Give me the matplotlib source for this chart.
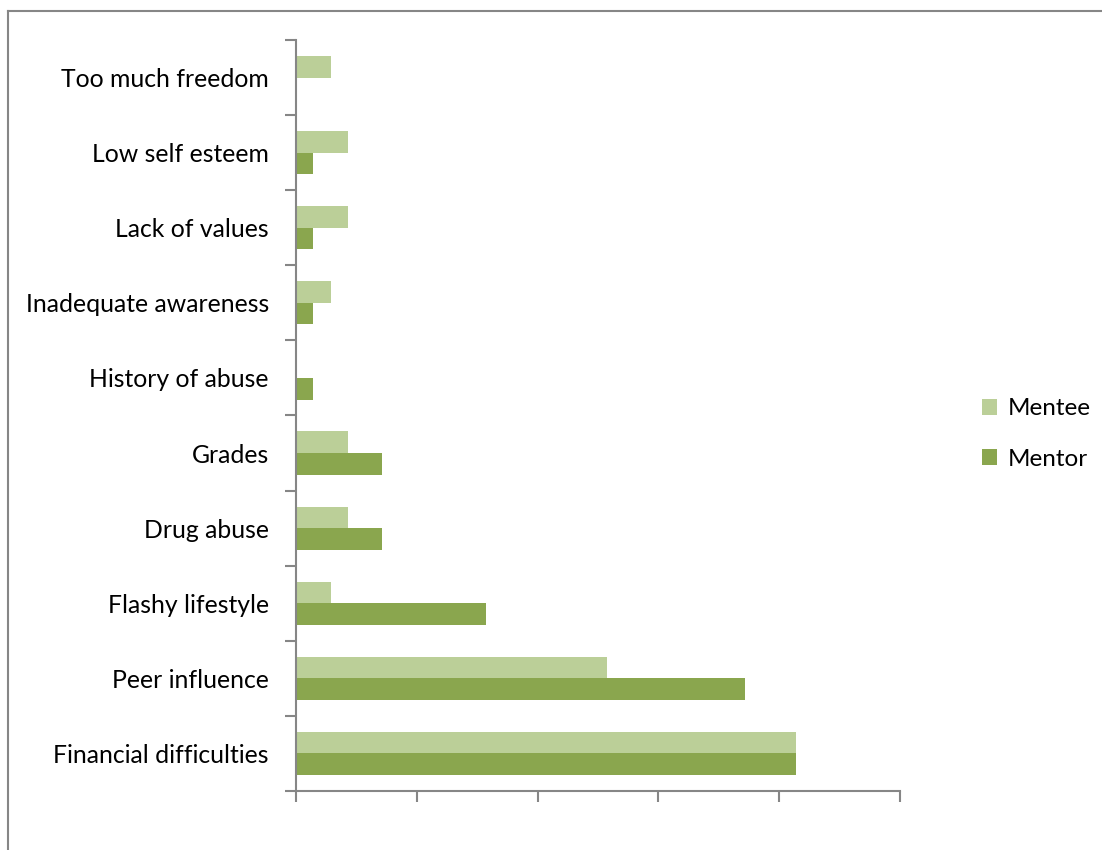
import matplotlib.pyplot as plt
import numpy as np
from matplotlib.lines import Line2D

plt.rcParams['font.family'] = ['Lato', 'DejaVu Sans']

categories = ['Financial difficulties', 'Peer influence', 'Flashy lifestyle', 'Drug abuse',
              'Grades', 'History of abuse', 'Inadequate awareness', 'Lack of values',
              'Low self esteem', 'Too much freedom']
mentee = [29, 18, 2, 3, 3, 0, 2, 3, 3, 2]
mentor = [29, 26, 11, 5, 5, 1, 1, 1, 1, 0]

c_mentee = '#BBCF98'
c_mentor = '#8AA64E'
axis_col = '#868686'

fig = plt.figure(figsize=(11.02, 8.5), dpi=100)
ax = fig.add_axes([296/1102, 1-791/850, (900-296)/1102, (791-40)/850])

y = np.arange(len(categories))
h = 0.287
ax.barh(y + h/2, mentee, height=h, color=c_mentee, label='Mentee')
ax.barh(y - h/2, mentor, height=h, color=c_mentor, label='Mentor')

ax.set_xlim(0, 35)
ax.set_ylim(-0.5, len(categories) - 0.5)
ax.set_xticks(np.arange(0, 36, 7))
ax.set_xticklabels([])
ax.set_yticks(y)
ax.set_yticklabels(categories, fontsize=17.8)
ax.set_yticks(np.arange(-0.5, len(categories), 1), minor=True)
ax.tick_params(axis='y', which='major', length=0, pad=19.5)
ax.tick_params(axis='y', which='minor', length=8, width=1.5, color=axis_col)
ax.tick_params(axis='x', length=8, width=1.5, color=axis_col)

for s in ['top', 'right']:
    ax.spines[s].set_visible(False)
for s in ['left', 'bottom']:
    ax.spines[s].set_color(axis_col)
    ax.spines[s].set_linewidth(1.5)

# legend
fig.legend(loc='center left', bbox_to_anchor=(960/1102, 1-434/850), frameon=False,
           fontsize=17.5, handlelength=0.62, handleheight=0.62, handletextpad=0.45,
           labelspacing=1.2)

# chart area border (cropped)
fig.add_artist(Line2D([8/1102, 8/1102], [0, 1-11/850], color=axis_col, lw=1.5))
fig.add_artist(Line2D([8/1102, 1], [1-11/850, 1-11/850], color=axis_col, lw=1.5))

fig.savefig('out.png', dpi=100)
